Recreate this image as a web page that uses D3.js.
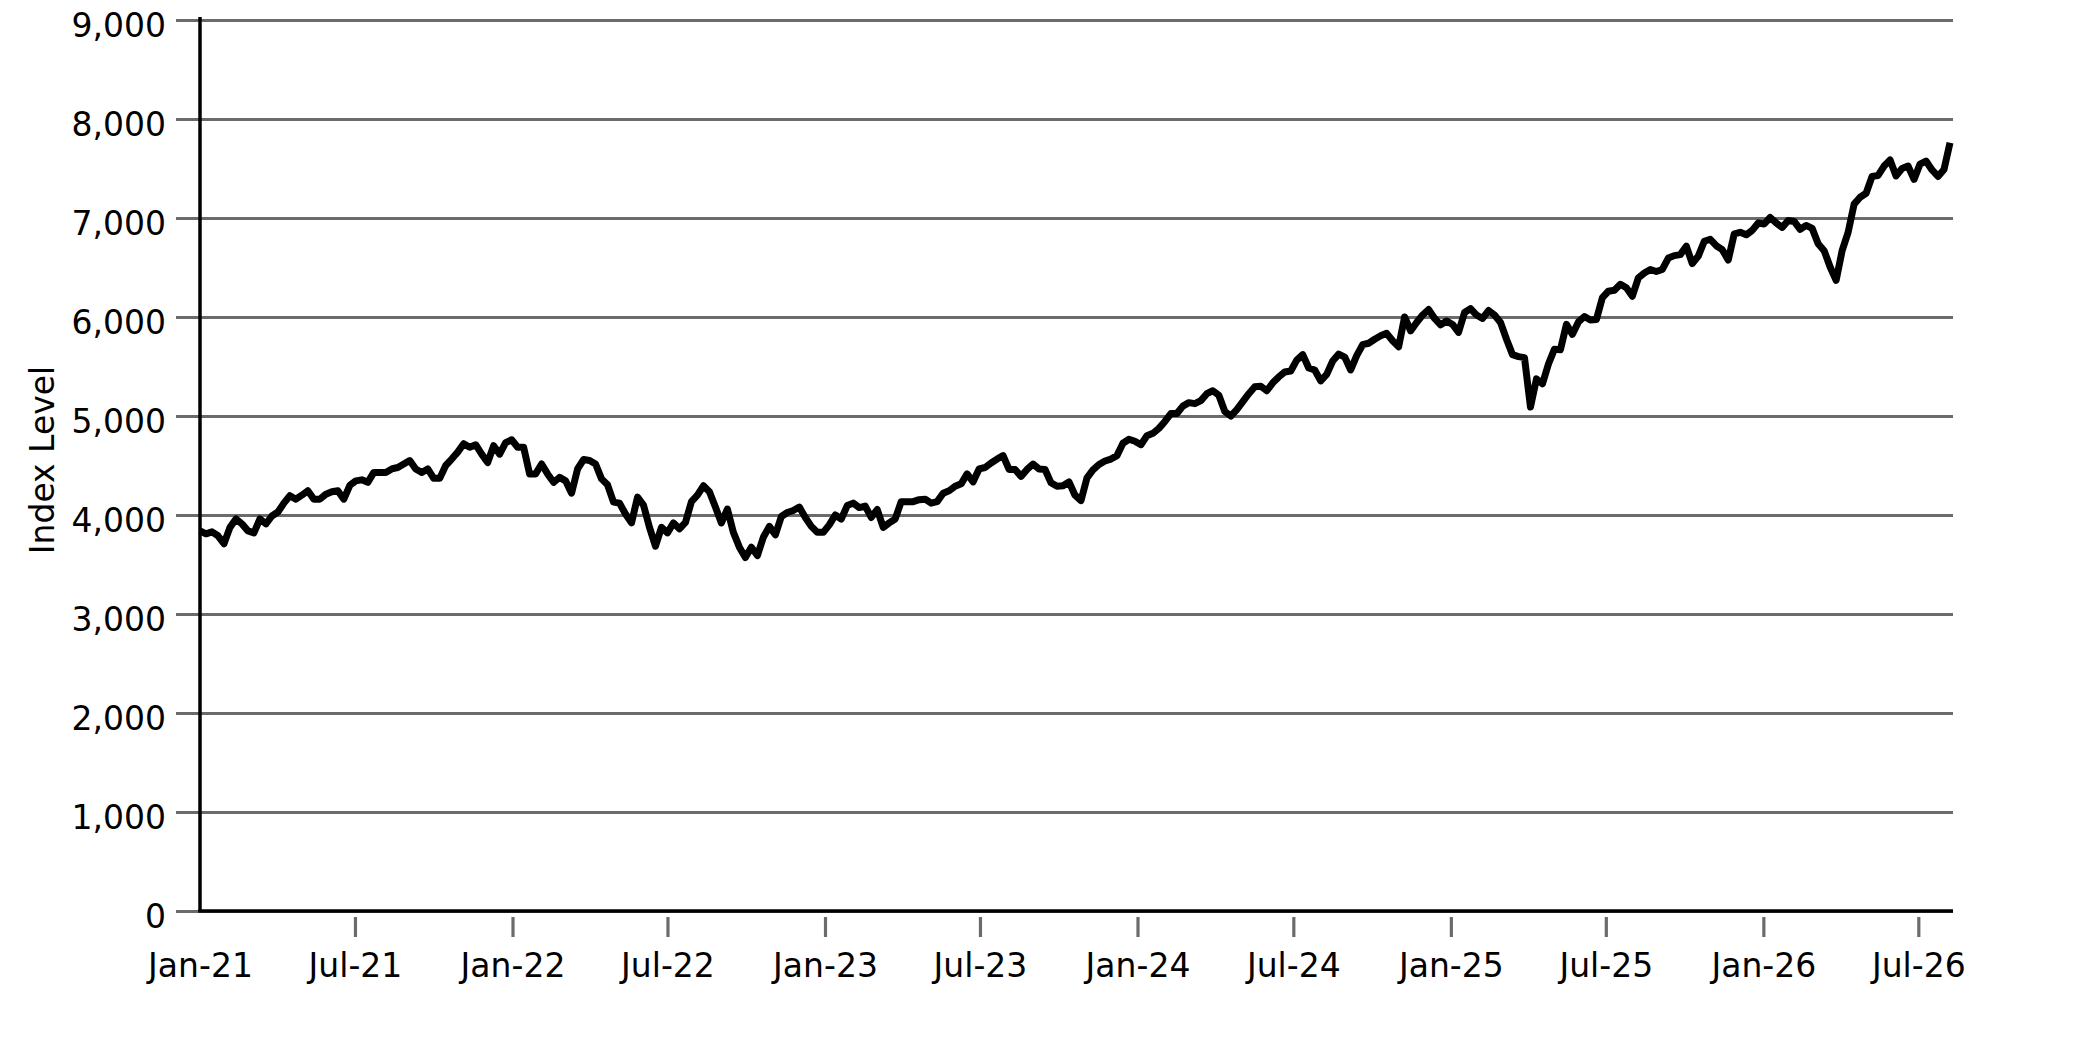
<!DOCTYPE html>
<html>
<head>
<meta charset="utf-8">
<script src="https://cdn.jsdelivr.net/npm/d3@7"></script>
<style>
  body { margin: 0; background: #fff; }
  text { font-family: "DejaVu Sans", sans-serif; }
</style>
</head>
<body>
<div id="chart-area"></div>
<script>
// weekly closes
var startDate = new Date(2021, 0, 1);
var stepDays = 7;

var values2021 = [3840, 3810, 3830, 3790, 3710, 3875, 3960, 3910, 3840, 3820,
    3960, 3910, 3990, 4030, 4120, 4195, 4160, 4200, 4245, 4160,
    4160, 4210, 4235, 4245, 4160, 4300, 4345, 4355, 4330, 4430,
    4430, 4430, 4465, 4480, 4515, 4550, 4465, 4430, 4465, 4370,
    4370, 4500, 4565, 4635, 4720, 4685, 4710, 4615, 4530, 4700,
    4615, 4730, 4760];
var values2022 = [4685, 4685, 4415, 4415, 4515, 4415, 4330, 4380, 4345, 4220,
    4465, 4560, 4550, 4515, 4365, 4305, 4130, 4120, 4010, 3920,
    4180, 4100, 3875, 3685, 3875, 3820, 3920, 3860, 3925, 4135,
    4200, 4295, 4235, 4080, 3920, 4060, 3825, 3675, 3570, 3675,
    3590, 3775, 3885, 3800, 3985, 4025, 4045, 4080, 3975, 3885,
    3825, 3825];
var values2023 = [3900, 4000, 3960, 4095, 4120, 4075, 4090, 3975, 4055, 3875,
    3920, 3960, 4135, 4135, 4135, 4155, 4160, 4120, 4135, 4220,
    4245, 4290, 4315, 4415, 4335, 4465, 4480, 4525, 4565, 4600,
    4460, 4460, 4390, 4460, 4515, 4465, 4460, 4325, 4290, 4295,
    4335, 4200, 4145, 4375, 4455, 4510, 4545, 4565, 4600, 4725,
    4765, 4745];
var values2024 = [4710, 4800, 4825, 4875, 4945, 5025, 5025, 5100, 5135, 5125,
    5155, 5225, 5255, 5210, 5045, 5000, 5065, 5145, 5225, 5295,
    5300, 5255, 5335, 5395, 5445, 5455, 5565, 5620, 5485, 5465,
    5355, 5420, 5555, 5625, 5595, 5465, 5610, 5720, 5735, 5775,
    5810, 5835, 5760, 5700, 6000, 5860, 5945, 6020, 6075, 5985,
    5920, 5960];
var values2025 = [5925, 5845, 6045, 6085, 6020, 5985, 6065, 6020, 5945, 5775,
    5620, 5600, 5590, 5090, 5375, 5325, 5525, 5675, 5670, 5925,
    5825, 5950, 6005, 5970, 5975, 6195, 6260, 6270, 6330, 6295,
    6210, 6395, 6445, 6480, 6460, 6480, 6595, 6620, 6630, 6715,
    6540, 6615, 6765, 6785, 6720, 6680, 6575, 6840, 6855, 6830,
    6875, 6950];
var values2026 = [6940, 7005, 6950, 6905, 6975, 6965, 6885, 6925, 6895, 6740,
    6670, 6505, 6370, 6670, 6855, 7140, 7210, 7250, 7420, 7430,
    7525, 7585, 7425, 7500, 7525, 7390, 7545, 7575, 7485, 7420,
    7490, 7760];

var yTickValues = [0, 1000, 2000, 3000, 4000, 5000, 6000, 7000, 8000, 9000];
var xTickDates = ["2021-01", "2021-07", "2022-01", "2022-07", "2023-01", "2023-07",
    "2024-01", "2024-07", "2025-01", "2025-07", "2026-01", "2026-07"];

var values = [].concat(values2021, values2022, values2023, values2024, values2025, values2026);
var rows = values.map(function(v, i){
    return { date: d3.timeDay.offset(startDate, i * stepDays), value: v };
});

var width = 2083, height = 1042;
var plotLeft = 200, plotRight = 1950, plotTop = 20, plotBottom = 911;
var gridRight = 1953;
var gridColor = "#6b6b6b";

var svg = d3.select("#chart-area").append("svg")
    .attr("width", width)
    .attr("height", height)
    .style("display", "block");

svg.append("rect").attr("width", width).attr("height", height).attr("fill", "#fff");

var x = d3.scaleTime()
    .domain([rows[0].date, rows[rows.length - 1].date])
    .range([plotLeft, plotRight]);

var y = d3.scaleLinear()
    .domain([0, 9000])
    .range([plotBottom, plotTop]);

// horizontal gridlines + y ticks (ticks run from the right edge to left of the axis)
var yGrid = svg.append("g")
    .attr("transform", "translate(" + gridRight + ",0)")
    .call(d3.axisLeft(y)
        .tickValues(yTickValues)
        .tickFormat(d3.format(","))
        .tickSize(gridRight - plotLeft + 24)
        .tickPadding(10));
yGrid.select(".domain").remove();
yGrid.selectAll(".tick line")
    .attr("stroke", gridColor)
    .attr("stroke-width", 3.2);
yGrid.selectAll(".tick text")
    .attr("font-size", "33px")
    .attr("fill", "#000")
    .attr("dy", "0.5em");

// x axis ticks and labels
var xAxis = svg.append("g")
    .attr("transform", "translate(0," + plotBottom + ")")
    .call(d3.axisBottom(x)
        .tickValues(xTickDates.map(d3.timeParse("%Y-%m")))
        .tickFormat(d3.timeFormat("%b-%y"))
        .tickSize(26)
        .tickPadding(17));
xAxis.select(".domain").remove();
xAxis.selectAll(".tick line")
    .attr("y1", 6)
    .attr("stroke", gridColor)
    .attr("stroke-width", 3.2)
    .filter(function(d, i){ return i === 0; })
    .remove();
xAxis.selectAll(".tick text")
    .attr("font-size", "33px")
    .attr("fill", "#000");

// black axis lines
svg.append("line")
    .attr("x1", plotLeft).attr("x2", plotLeft)
    .attr("y1", plotTop - 3).attr("y2", plotBottom)
    .attr("stroke", "#000").attr("stroke-width", 3.5);
svg.append("line")
    .attr("x1", plotLeft - 1.75).attr("x2", gridRight)
    .attr("y1", plotBottom).attr("y2", plotBottom)
    .attr("stroke", "#000").attr("stroke-width", 3.5);

// the index line
var line = d3.line()
    .x(function(d){ return x(d.date); })
    .y(function(d){ return y(d.value); });

svg.append("path")
    .datum(rows)
    .attr("d", line)
    .attr("fill", "none")
    .attr("stroke", "#000")
    .attr("stroke-width", 7)
    .attr("stroke-linejoin", "round");

// y axis title
svg.append("text")
    .attr("transform", "translate(54,460) rotate(-90)")
    .attr("text-anchor", "middle")
    .attr("font-size", "33px")
    .attr("fill", "#000")
    .text("Index Level");
</script>
</body>
</html>
